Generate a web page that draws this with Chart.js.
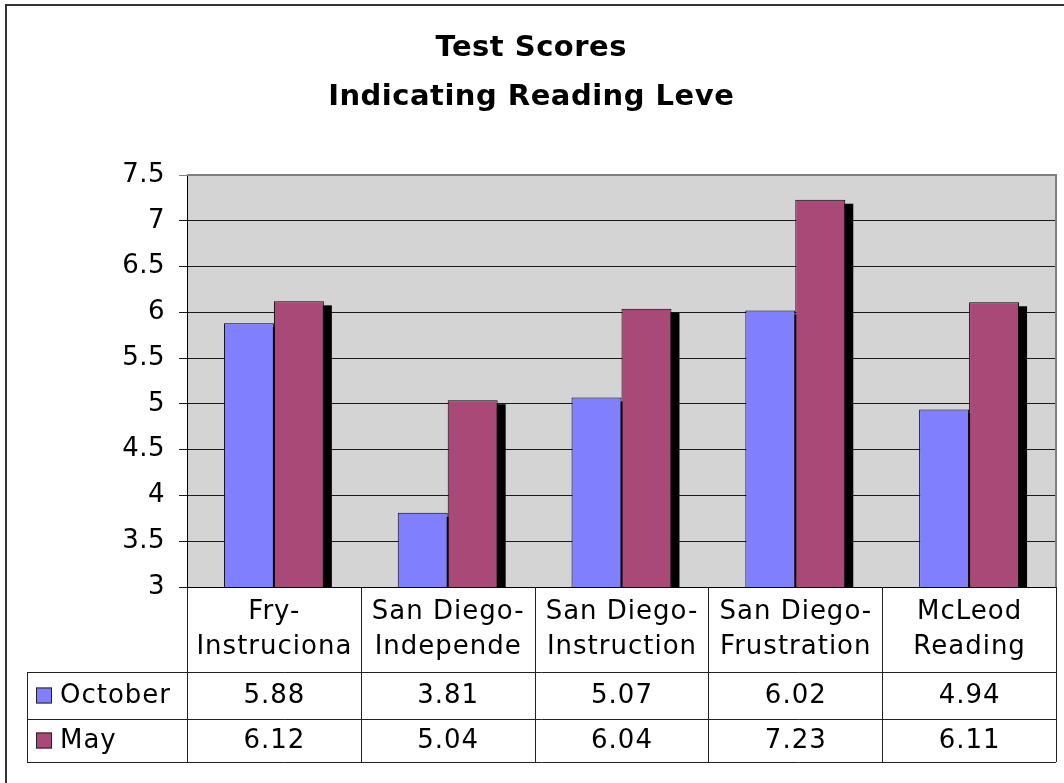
<!DOCTYPE html>
<html>
<head>
<meta charset="utf-8">
<script src="https://cdn.jsdelivr.net/npm/chart.js@4.4.1/dist/chart.umd.min.js"></script>
<style>
  html, body { margin: 0; padding: 0; background: #fff; }
  #wrap { width: 1064px; height: 783px; position: relative; }
</style>
</head>
<body>
<div id="wrap"><canvas id="chart" width="1064" height="783"></canvas></div>
<script>
// data
const categories = [["Fry-", "Instruciona"], ["San Diego-", "Independe"], ["San Diego-", "Instruction"], ["San Diego-", "Frustration"], ["McLeod", "Reading"]];
const seriesNames = ["October", "May"];
const october = [5.88, 3.81, 5.07, 6.02, 4.94];
const may = [6.12, 5.04, 6.04, 7.23, 6.11];
const titleLines = ["Test Scores", "Indicating Reading Leve"];
const yMin = 3, yMax = 7.5, yStep = 0.5;

const colors = ["#8080FF", "#A94977"];
const FONT = "'DejaVu Sans', Verdana, sans-serif";

// geometry of the data table under the plot
const tbl = { legendLeft: 27, headerBottom: 672, row1Bottom: 719, row2Bottom: 762 };

// centred text with letter spacing (canvas adds the spacing after the last glyph too)
function spacedCentre(c, t, x, y, sp) {
  c.letterSpacing = sp + "px";
  c.textAlign = "center";
  c.fillText(t, x + sp / 2, y);
}

const decor = {
  id: "decor",
  beforeDraw(chart) {
    const c = chart.ctx, a = chart.chartArea;
    c.save();
    c.fillStyle = "#fff";
    c.fillRect(0, 0, chart.width, chart.height);
    // outer frame
    c.strokeStyle = "#333";
    c.lineWidth = 2;
    c.strokeRect(6, 5, 2000, 2000);
    // title
    c.fillStyle = "#000";
    c.font = "bold 29px " + FONT;
    c.textBaseline = "middle";
    spacedCentre(c, titleLines[0], 531, 48, 0.5);
    spacedCentre(c, titleLines[1], 531, 97, 0.5);
    // plot background
    c.fillStyle = "#D4D4D4";
    c.fillRect(a.left, a.top, a.right - a.left, a.bottom - a.top);
    c.restore();
    c.letterSpacing = "0.5px";
  },
  beforeDatasetsDraw(chart) {
    // drop shadow behind bars
    const c = chart.ctx, a = chart.chartArea;
    c.save();
    c.beginPath();
    c.rect(a.left, a.top, a.right - a.left, a.bottom - a.top);
    c.clip();
    c.fillStyle = "#000";
    chart.data.datasets.forEach((ds, i) => {
      chart.getDatasetMeta(i).data.forEach(bar => {
        const w = bar.width;
        c.fillRect(bar.x - w / 2 + 8, bar.y + 4, w, bar.base - bar.y);
      });
    });
    c.restore();
  },
  afterDraw(chart) {
    const c = chart.ctx, a = chart.chartArea;
    const n = categories.length;
    const colW = (a.right - a.left) / n;
    c.save();
    // top and right plot border
    c.strokeStyle = "#808080";
    c.lineWidth = 2;
    c.beginPath();
    c.moveTo(a.left, a.top);
    c.lineTo(a.right, a.top);
    c.lineTo(a.right, a.bottom);
    c.stroke();

    // table lines
    c.strokeStyle = "#222";
    c.lineWidth = 1;
    c.beginPath();
    for (let i = 0; i <= n; i++) {
      const x = Math.round(a.left + i * colW) + 0.5;
      c.moveTo(x, a.bottom);
      c.lineTo(x, tbl.row2Bottom);
    }
    [tbl.headerBottom, tbl.row1Bottom, tbl.row2Bottom].forEach(y => {
      c.moveTo(tbl.legendLeft, y + 0.5);
      c.lineTo(a.right, y + 0.5);
    });
    c.moveTo(tbl.legendLeft + 0.5, tbl.headerBottom);
    c.lineTo(tbl.legendLeft + 0.5, tbl.row2Bottom);
    c.stroke();

    // category header text
    c.fillStyle = "#000";
    c.font = "26px " + FONT;
    c.textBaseline = "middle";
    categories.forEach((lines, i) => {
      const cx = a.left + (i + 0.5) * colW;
      lines.forEach((t, j) => spacedCentre(c, t, cx, 612 + j * 35, 1));
    });

    // value rows + legend keys
    const rows = [october, may];
    const rowMid = [(tbl.headerBottom + tbl.row1Bottom) / 2, (tbl.row1Bottom + tbl.row2Bottom) / 2];
    rows.forEach((vals, r) => {
      c.fillStyle = "#000";
      vals.forEach((v, i) => spacedCentre(c, v.toFixed(2), a.left + (i + 0.5) * colW, rowMid[r] + 1, 1));
      c.letterSpacing = "0px";
      c.fillStyle = colors[r];
      c.fillRect(36, rowMid[r] - 8, 16, 16);
      c.strokeStyle = "#222";
      c.strokeRect(36.5, rowMid[r] - 7.5, 15, 15);
      c.fillStyle = "#000";
      c.letterSpacing = "1px";
      c.textAlign = "left";
      c.fillText(seriesNames[r], 60, rowMid[r] + 1);
    });
    c.restore();
  }
};

new Chart(document.getElementById("chart"), {
  type: "bar",
  data: {
    labels: categories,
    datasets: [
      { label: seriesNames[0], data: october, backgroundColor: colors[0] },
      { label: seriesNames[1], data: may, backgroundColor: colors[1] }
    ]
  },
  options: {
    responsive: false,
    animation: false,
    layout: { padding: { top: 175, right: 8, bottom: 0, left: 0 } },
    datasets: {
      bar: { borderColor: "#000", borderWidth: 1, borderSkipped: false, categoryPercentage: 0.575, barPercentage: 1.0 }
    },
    plugins: { legend: { display: false }, title: { display: false }, tooltip: { enabled: false } },
    scales: {
      x: {
        afterFit: s => { s.height = 196; },
        ticks: { display: false },
        grid: { display: false },
        border: { display: true, color: "#000", width: 1 }
      },
      y: {
        min: yMin,
        max: yMax,
        afterFit: s => { s.width = 187; },
        ticks: {
          stepSize: yStep,
          color: "#000",
          padding: 14,
          font: { family: FONT, size: 26 },
          callback: v => String(v)
        },
        grid: {
          color: ctx => (ctx.tick && ctx.tick.value === yMax ? "#808080" : "#1a1a1a"),
          lineWidth: 1,
          tickLength: 8,
          drawTicks: true
        },
        border: { display: true, color: "#000", width: 1 }
      }
    }
  },
  plugins: [decor]
});
</script>
</body>
</html>
